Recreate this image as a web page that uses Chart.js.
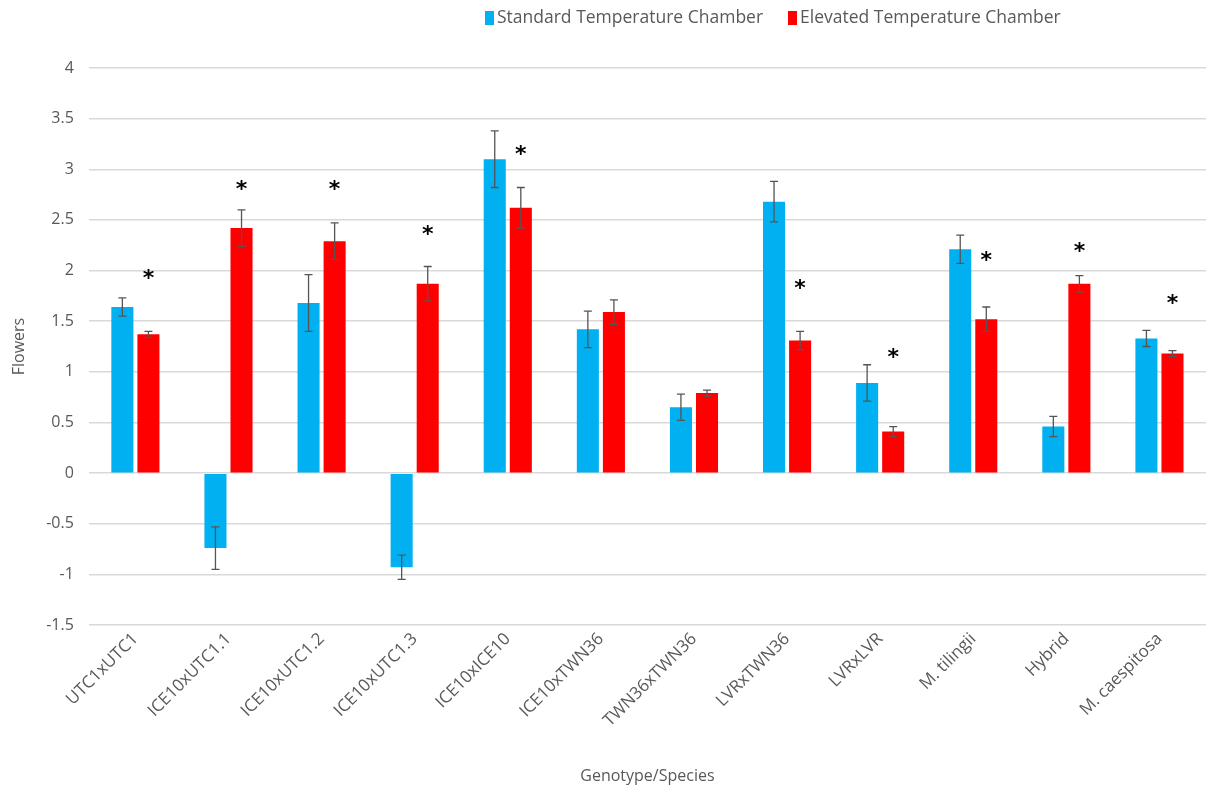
<!DOCTYPE html>
<html>
<head>
<meta charset="utf-8">
<script src="https://cdn.jsdelivr.net/npm/chart.js@4/dist/chart.umd.min.js"></script>
<style>
  html, body { margin: 0; padding: 0; background: #ffffff; }
  #wrap { width: 1206px; height: 794px; position: relative; }
</style>
</head>
<body>
<div id="wrap"><canvas id="chart" width="1206" height="794"></canvas></div>
<script>
// Genotypes / species along the x axis
const categories = ['UTC1xUTC1', 'ICE10xUTC1.1', 'ICE10xUTC1.2', 'ICE10xUTC1.3', 'ICE10xICE10', 'ICE10xTWN36',
  'TWN36xTWN36', 'LVRxTWN36', 'LVRxLVR', 'M. tilingii', 'Hybrid', 'M. caespitosa'];

// Mean flowers and error for the standard-temperature chamber
const standardMeans = [1.64, -0.74, 1.68, -0.93, 3.10, 1.42, 0.65, 2.68, 0.89, 2.21, 0.46, 1.33];
const standardErrors = [0.09, 0.21, 0.28, 0.12, 0.28, 0.18, 0.13, 0.20, 0.18, 0.14, 0.10, 0.08];

// Mean flowers and error for the elevated-temperature chamber
const elevatedMeans = [1.37, 2.42, 2.29, 1.87, 2.62, 1.59, 0.79, 1.31, 0.41, 1.52, 1.87, 1.18];
const elevatedErrors = [0.03, 0.18, 0.18, 0.17, 0.20, 0.12, 0.03, 0.09, 0.05, 0.12, 0.08, 0.03];

// Height of the significance asterisk for each group (null = not significant)
const significanceMarks = [1.96, 2.84, 2.84, 2.40, 3.19, null, null, 1.86, 1.18, 2.14, 2.23, 1.72];

const seriesNames = ['Standard Temperature Chamber', 'Elevated Temperature Chamber'];

const FONT = '"Open Sans", "Noto Sans", sans-serif';
const TEXT_GREY = '#595959';
const BLUE = '#00b0f0';
const RED = '#ff0000';

// Error bars with caps, drawn from each dataset's errors
const errorBarPlugin = {
  id: 'errorBars',
  afterDatasetsDraw(chart) {
    const ctx = chart.ctx;
    const y = chart.scales.y;
    ctx.save();
    ctx.strokeStyle = '#555555';
    ctx.lineWidth = 1.3;
    chart.data.datasets.forEach((ds, di) => {
      const meta = chart.getDatasetMeta(di);
      meta.data.forEach((bar, i) => {
        const v = ds.data[i];
        const e = ds.errors[i];
        const x = bar.x;
        const yTop = y.getPixelForValue(v + e);
        const yBot = y.getPixelForValue(v - e);
        ctx.beginPath();
        ctx.moveTo(x, yTop); ctx.lineTo(x, yBot);
        ctx.moveTo(x - 4, yTop); ctx.lineTo(x + 4, yTop);
        ctx.moveTo(x - 4, yBot); ctx.lineTo(x + 4, yBot);
        ctx.stroke();
      });
    });
    ctx.restore();
  }
};

// Asterisks marking significant differences, placed over the elevated bar
const significancePlugin = {
  id: 'significance',
  afterDatasetsDraw(chart) {
    const ctx = chart.ctx;
    const y = chart.scales.y;
    const meta = chart.getDatasetMeta(1);
    ctx.save();
    ctx.fillStyle = '#000000';
    ctx.font = 'bold 22px "DejaVu Sans", sans-serif';
    ctx.textAlign = 'center';
    ctx.textBaseline = 'middle';
    significanceMarks.forEach((v, i) => {
      if (v === null) return;
      const x = meta.data[i].x;
      ctx.fillText('*', x, y.getPixelForValue(v) + 5);
    });
    ctx.restore();
  }
};

// Legend row across the top
const legendPlugin = {
  id: 'topLegend',
  afterDraw(chart) {
    const ctx = chart.ctx;
    const items = [
      { x: 485, color: BLUE, text: seriesNames[0] },
      { x: 788, color: RED, text: seriesNames[1] }
    ];
    ctx.save();
    ctx.font = '17.5px ' + FONT;
    ctx.textBaseline = 'middle';
    ctx.textAlign = 'left';
    items.forEach(it => {
      ctx.fillStyle = it.color;
      ctx.fillRect(it.x, 11, 9, 14);
      ctx.fillStyle = TEXT_GREY;
      ctx.fillText(it.text, it.x + 12, 18);
    });
    ctx.restore();
  }
};

new Chart(document.getElementById('chart'), {
  type: 'bar',
  data: {
    labels: categories,
    datasets: [
      { label: seriesNames[0], data: standardMeans, errors: standardErrors, backgroundColor: BLUE,
        categoryPercentage: 0.56, barPercentage: 0.846 },
      { label: seriesNames[1], data: elevatedMeans, errors: elevatedErrors, backgroundColor: RED,
        categoryPercentage: 0.56, barPercentage: 0.846 }
    ]
  },
  options: {
    responsive: false,
    animation: false,
    layout: { padding: { top: 68, right: 0, left: 4, bottom: 8 } },
    plugins: {
      legend: { display: false },
      tooltip: { enabled: false }
    },
    scales: {
      x: {
        grid: { display: false, drawTicks: false },
        border: { display: false },
        ticks: {
          color: TEXT_GREY,
          font: { family: FONT, size: 17 },
          minRotation: 45, maxRotation: 45,
          padding: 4
        },
        title: {
          display: true, text: 'Genotype/Species', color: TEXT_GREY,
          font: { family: FONT, size: 16 }, padding: { top: 32, bottom: 0 }
        }
      },
      y: {
        min: -1.5, max: 4,
        grid: { color: '#d9d9d9', lineWidth: 1.5, drawTicks: false },
        border: { display: false },
        ticks: {
          stepSize: 0.5,
          color: TEXT_GREY,
          font: { family: FONT, size: 16 },
          padding: 15,
          callback: v => String(Math.round(v * 10) / 10)
        },
        title: {
          display: true, text: 'Flowers', color: TEXT_GREY,
          font: { family: FONT, size: 16 }, padding: { top: 6, bottom: 2 }
        }
      }
    }
  },
  plugins: [errorBarPlugin, significancePlugin, legendPlugin]
});
</script>
</body>
</html>
